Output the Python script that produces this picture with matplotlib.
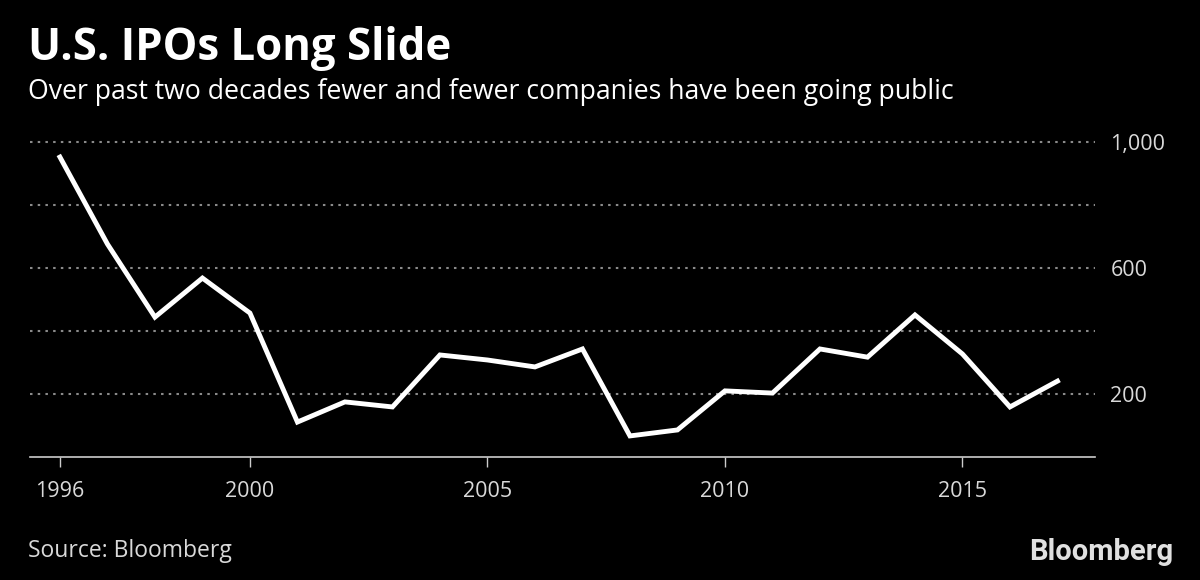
import numpy as np
import matplotlib.pyplot as plt
from matplotlib.ticker import FuncFormatter

# IPO counts per year
years = [1996, 1997, 1998, 1999, 2000, 2001, 2002, 2003, 2004, 2005, 2006,
         2007, 2008, 2009, 2010, 2011, 2012, 2013, 2014, 2015, 2016, 2017]
ipos = [952, 676, 444, 568, 457, 111, 175, 159, 324, 308, 286,
        343, 67, 86, 210, 203, 343, 317, 451, 327, 159, 241]

x_ticks = [1996, 2000, 2005, 2010, 2015]
y_grid = [200, 400, 600, 800, 1000]
y_labels = [200, 600, 1000]

bg = "black"
txt = "#d9d9d9"
plt.rcParams['font.family'] = ['Open Sans', 'DejaVu Sans']

fig = plt.figure(figsize=(12, 5.8), dpi=100, facecolor=bg)
ax = fig.add_axes([0.025, 0.212, 0.8875, 0.565], facecolor=bg)

# dotted horizontal grid
for g in y_grid:
    ax.axhline(g, color="#8a8a8a", lw=1.5, ls=(0, (1.2, 2.5)), zorder=1)

ax.plot(years, ipos, color="white", lw=3.5, solid_joinstyle="miter", zorder=3, clip_on=False)

ax.set_xlim(1995.37, 2017.79)
ax.set_ylim(0, 1040)

for s in ["top", "left", "right"]:
    ax.spines[s].set_visible(False)
ax.spines["bottom"].set_color("#cccccc")
ax.spines["bottom"].set_linewidth(1.2)

ax.set_xticks(x_ticks)
ax.tick_params(axis="x", colors="#cccccc", length=7, width=1, direction="out", pad=10,
               labelsize=15.5, labelcolor=txt)
ax.yaxis.tick_right()
ax.set_yticks(y_labels)
ax.yaxis.set_major_formatter(FuncFormatter(lambda v, p: f"{int(v):,}"))
ax.tick_params(axis="y", length=0, pad=11, labelsize=15.5, labelcolor=txt)

fig.text(0.023, 0.8966, "U.S. IPOs Long Slide", color="white", fontsize=31.5,
         fontweight="bold", ha="left", va="baseline")
fig.text(0.023, 0.829, "Over past two decades fewer and fewer companies have been going public",
         color="white", fontsize=19.2, ha="left", va="baseline")
fig.text(0.023, 0.040, "Source: Bloomberg", color=txt, fontsize=16.5, ha="left", va="baseline")
fig.text(0.9775, 0.0345, "Bloomberg", color="#e0e0e0", fontsize=21, fontweight="bold",
         family=["Roboto", "DejaVu Sans"], ha="right", va="baseline")

fig.savefig("out.png", dpi=100, facecolor=bg)
